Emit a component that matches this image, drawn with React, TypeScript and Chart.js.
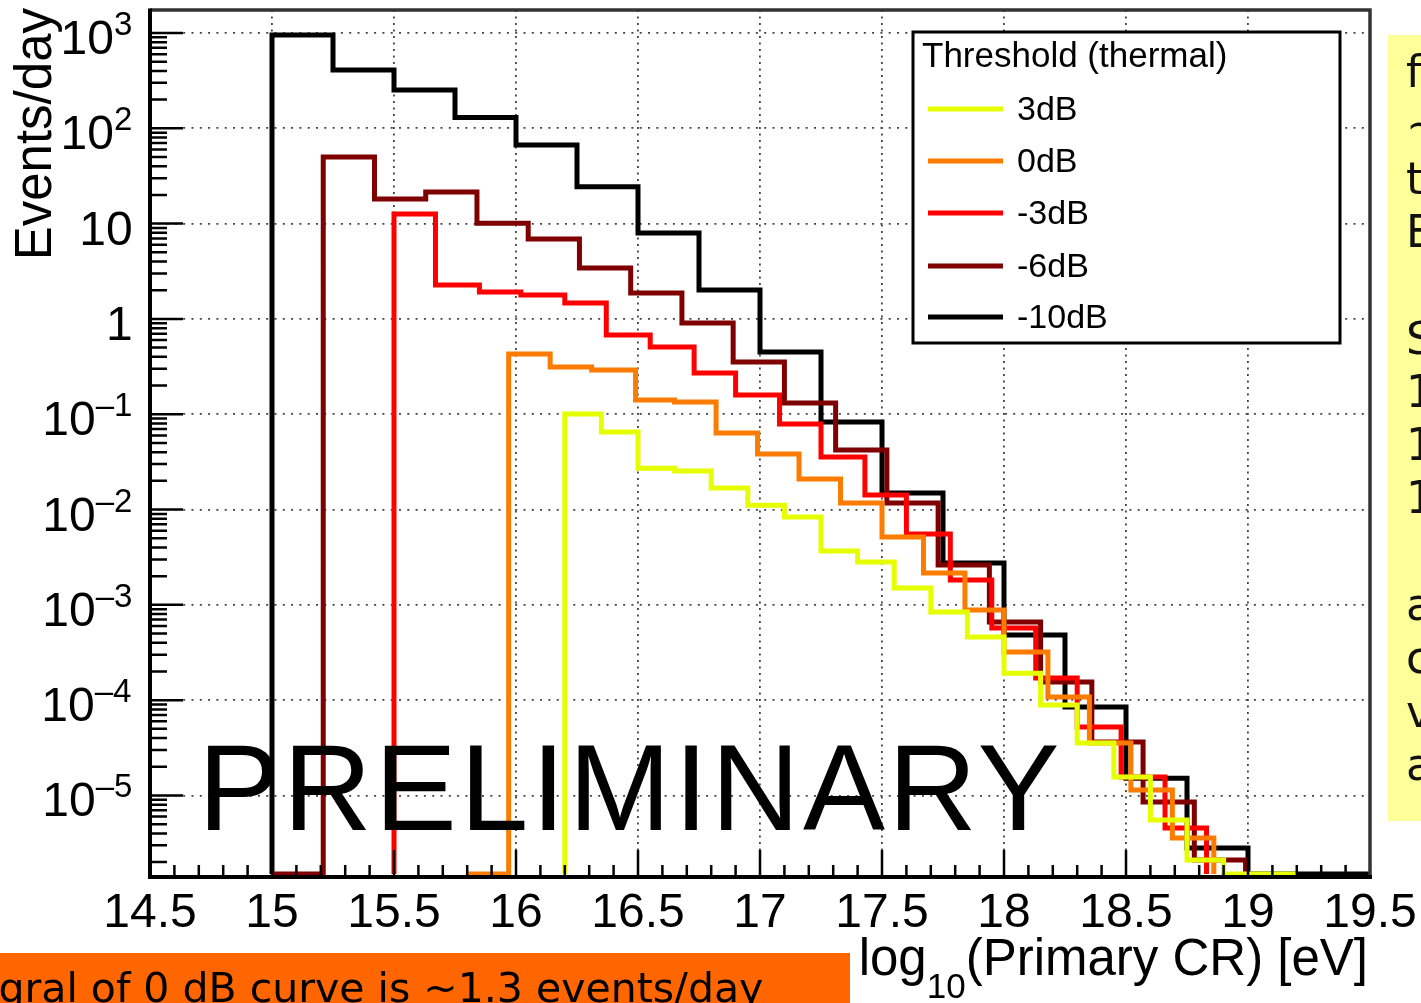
import React, { useEffect, useRef } from 'react';
import { Chart, registerables } from 'chart.js';

Chart.register(...registerables);

// ---------------- data ----------------
// x: log10(Primary CR energy / eV); y: events per day, per histogram bin
const EDGES_3DB = [16.20, 16.35, 16.50, 16.65, 16.80, 16.95, 17.10, 17.25, 17.40, 17.55, 17.70, 17.85, 18.00, 18.15, 18.30, 18.45, 18.60, 18.75, 18.90, 19.05, 19.20];
const VALUES_3DB = [0.1005, 0.065, 0.0272, 0.0254, 0.0168, 0.0111, 0.00834, 0.00367, 0.00281, 0.0015, 8.4e-4, 4.59e-4, 1.92e-4, 8.89e-5, 3.55e-5, 1.56e-5, 5.52e-6, 2.1e-6, 0, 0];

const EDGES_0DB = [15.80, 15.97, 16.14, 16.31, 16.49, 16.65, 16.82, 16.99, 17.16, 17.33, 17.50, 17.67, 17.84, 18.00, 18.18, 18.35, 18.52, 18.69, 18.86];
const VALUES_0DB = [0, 0.428, 0.313, 0.291, 0.141, 0.134, 0.0635, 0.0382, 0.0209, 0.0117, 0.00514, 0.00216, 8.83e-4, 3.2e-4, 1.08e-4, 3.55e-5, 1.14e-5, 3.57e-6];

const EDGES_M3DB = [15.50, 15.67, 15.85, 16.02, 16.20, 16.37, 16.55, 16.73, 16.90, 17.08, 17.25, 17.43, 17.60, 17.78, 17.95, 18.13, 18.30, 18.48, 18.66, 18.83];
const VALUES_M3DB = [12.6, 2.27, 1.92, 1.78, 1.47, 0.678, 0.507, 0.27, 0.159, 0.0789, 0.0356, 0.0142, 0.00553, 0.00182, 5.71e-4, 1.71e-4, 5.22e-5, 1.56e-5, 4.55e-6];

const EDGES_M6DB = [15.00, 15.21, 15.42, 15.63, 15.84, 16.05, 16.26, 16.47, 16.68, 16.89, 17.10, 17.31, 17.52, 17.73, 17.94, 18.15, 18.36, 18.57, 18.78, 18.99];
const VALUES_M6DB = [0, 50.0, 18.1, 21.5, 10.1, 6.89, 3.42, 1.87, 0.905, 0.353, 0.131, 0.0421, 0.0117, 0.00262, 6.61e-4, 1.55e-4, 3.63e-5, 8.53e-6, 2.1e-6];

const EDGES_M10DB = [15.00, 15.25, 15.50, 15.75, 16.00, 16.25, 16.50, 16.75, 17.00, 17.25, 17.50, 17.75, 18.00, 18.25, 18.50, 18.75, 19.00, 19.25, 19.50];
const VALUES_M10DB = [953, 409, 252, 130, 66.8, 24.4, 7.96, 2.01, 0.45, 0.0828, 0.0149, 0.00275, 4.82e-4, 8.47e-5, 1.52e-5, 2.81e-6, 0, 0];

const SERIES_LABELS = ['3dB', '0dB', '-3dB', '-6dB', '-10dB'];
const SERIES_COLORS = ['#e6ff00', '#fb7c00', '#ff0000', '#7f0000', '#000000'];
const SERIES_EDGES = [EDGES_3DB, EDGES_0DB, EDGES_M3DB, EDGES_M6DB, EDGES_M10DB];
const SERIES_VALUES = [VALUES_3DB, VALUES_0DB, VALUES_M3DB, VALUES_M6DB, VALUES_M10DB];

const X_TICK_VALUES = [14.5, 15, 15.5, 16, 16.5, 17, 17.5, 18, 18.5, 19, 19.5];
const X_TICK_LABELS = ['14.5', '15', '15.5', '16', '16.5', '17', '17.5', '18', '18.5', '19', '19.5'];
const Y_DECADES = [-5, -4, -3, -2, -1, 0, 1, 2, 3];

const LEGEND_TITLE = 'Threshold (thermal)';
const Y_TITLE = 'Events/day';
const X_TITLE_PARTS = ['log', '10', '(Primary CR) [eV]'];
const WATERMARK = 'PRELIMINARY';
const NOTE_TEXT = 'Integral of 0 dB curve is ~1.3 events/day';
const SIDE_NOTE_LINES = ['f', '~', 't', 'E', '', 'S', '1', '1', '1', '', 'a', 'c', 'v', 'a'];

const X_MIN = 14.5;
const X_MAX = 19.5;
const Y_MIN = 1.5e-6;
const Y_MAX = 1743;

const PLOT_FONT = '"Liberation Sans", Arial, Helvetica, sans-serif';
const SLIDE_FONT = '"DejaVu Sans", sans-serif';

function histPoints(edges: number[], values: number[]) {
  const v = (y: number) => (y > 0 ? y : Y_MIN); // empty bins sit on the frame floor, as in ROOT
  const pts: { x: number; y: number }[] = [{ x: edges[0], y: Y_MIN }];
  for (let i = 0; i < values.length; i++) pts.push({ x: edges[i], y: v(values[i]) });
  const n = values.length;
  pts.push({ x: edges[n], y: v(values[n - 1]) });
  pts.push({ x: edges[n], y: Y_MIN });
  return pts;
}

const decorPlugin = {
  id: 'rootDecor',
  beforeDraw(chart: any) {
    const ctx = chart.ctx;
    ctx.save();
    ctx.fillStyle = '#ffffff';
    ctx.fillRect(0, 0, chart.width, chart.height);
    ctx.restore();
  },
  afterDraw(chart: any) {
    const ctx: any = chart.ctx;
    const xs = chart.scales.x;
    const ys = chart.scales.y;
    const { left, right, top, bottom } = chart.chartArea;
    const axisY = bottom + 3;
    ctx.save();

    // frame
    ctx.strokeStyle = '#333';
    ctx.lineWidth = 3.5;
    ctx.beginPath();
    ctx.moveTo(left, top);
    ctx.lineTo(right, top);
    ctx.lineTo(right, axisY);
    ctx.stroke();
    ctx.strokeStyle = '#000';
    ctx.lineWidth = 4;
    ctx.beginPath();
    ctx.moveTo(left, top - 1.5);
    ctx.lineTo(left, axisY + 2);
    ctx.moveTo(left - 2, axisY);
    ctx.lineTo(right + 2, axisY);
    ctx.stroke();

    // x ticks (inside frame)
    ctx.lineWidth = 2.5;
    ctx.beginPath();
    for (let i = 1; i < 50; i++) {
      const val = X_MIN + i * 0.1;
      const px = xs.getPixelForValue(val);
      const len = i % 5 === 0 ? 27 : 12;
      ctx.moveTo(px, axisY);
      ctx.lineTo(px, axisY - len);
    }
    ctx.stroke();

    // y ticks (log, inside frame)
    ctx.beginPath();
    for (let d = -6; d <= 3; d++) {
      for (let k = 1; k <= 9; k++) {
        const val = k * Math.pow(10, d);
        if (val < Y_MIN || val > Y_MAX) continue;
        const py = ys.getPixelForValue(val);
        const len = k === 1 ? 33 : 17;
        ctx.moveTo(left, py);
        ctx.lineTo(left + len, py);
      }
    }
    ctx.stroke();

    // x tick labels
    ctx.fillStyle = '#000';
    ctx.font = `48px ${PLOT_FONT}`;
    ctx.textAlign = 'center';
    ctx.textBaseline = 'alphabetic';
    X_TICK_VALUES.forEach((v, i) => {
      ctx.fillText(X_TICK_LABELS[i], xs.getPixelForValue(v), 927);
    });

    // y tick labels with superscripts, right-aligned by ink
    const inkRight = 131;
    ctx.textAlign = 'left';
    Y_DECADES.forEach((d) => {
      const py = ys.getPixelForValue(Math.pow(10, d));
      if (d === 0 || d === 1) {
        const s = d === 0 ? '1' : '10';
        ctx.font = `48px ${PLOT_FONT}`;
        const m = ctx.measureText(s);
        ctx.fillText(s, inkRight - m.actualBoundingBoxRight, py + 21);
      } else {
        const sup = (d < 0 ? '\u2013' : '') + String(Math.abs(d));
        ctx.font = `33px ${PLOT_FONT}`;
        const ms = ctx.measureText(sup);
        const supX = inkRight - ms.actualBoundingBoxRight;
        ctx.fillText(sup, supX, py + 2);
        ctx.font = `48px ${PLOT_FONT}`;
        const mm = ctx.measureText('10');
        ctx.fillText('10', supX - mm.width, py + 21);
      }
    });

    // y title
    ctx.save();
    ctx.font = `51px ${PLOT_FONT}`;
    ctx.translate(51, 8);
    ctx.rotate(-Math.PI / 2);
    ctx.textAlign = 'right';
    ctx.fillText(Y_TITLE, 0, 0);
    ctx.restore();

    // x title with subscript
    ctx.textAlign = 'left';
    ctx.font = `51px ${PLOT_FONT}`;
    const w1 = ctx.measureText(X_TITLE_PARTS[0]).width;
    const w3 = ctx.measureText(X_TITLE_PARTS[2]).width;
    ctx.font = `35px ${PLOT_FONT}`;
    const w2 = ctx.measureText(X_TITLE_PARTS[1]).width;
    const x0 = 1368 - (w1 + w2 + w3);
    ctx.font = `51px ${PLOT_FONT}`;
    ctx.fillText(X_TITLE_PARTS[0], x0, 975);
    ctx.fillText(X_TITLE_PARTS[2], x0 + w1 + w2, 975);
    ctx.font = `35px ${PLOT_FONT}`;
    ctx.fillText(X_TITLE_PARTS[1], x0 + w1, 998);

    // legend
    const lx = 913, ly = 32, lw = 427, lh = 311;
    ctx.fillStyle = '#fff';
    ctx.fillRect(lx, ly, lw, lh);
    ctx.strokeStyle = '#000';
    ctx.lineWidth = 3;
    ctx.strokeRect(lx, ly, lw, lh);
    ctx.fillStyle = '#000';
    ctx.font = `35px ${PLOT_FONT}`;
    ctx.fillText(LEGEND_TITLE, 922, 67);
    const entryY = [109, 161, 213, 266, 317];
    chart.data.datasets.forEach((ds: any, i: number) => {
      const y = entryY[i];
      ctx.strokeStyle = ds.borderColor;
      ctx.lineWidth = 5;
      ctx.beginPath();
      ctx.moveTo(928, y);
      ctx.lineTo(1003, y);
      ctx.stroke();
      ctx.fillStyle = '#000';
      ctx.font = `34px ${PLOT_FONT}`;
      ctx.fillText(ds.label, 1017, y + 11);
    });

    // watermark
    ctx.fillStyle = '#000';
    ctx.font = `123px ${PLOT_FONT}`;
    ctx.letterSpacing = '3px';
    ctx.fillText(WATERMARK, 198, 830);
    ctx.letterSpacing = '0px';

    // slide notes around the plot
    ctx.fillStyle = '#ffff99';
    ctx.fillRect(1388, 35, 40, 786);
    ctx.fillStyle = '#111';
    ctx.font = `44px ${SLIDE_FONT}`;
    SIDE_NOTE_LINES.forEach((s, i) => {
      if (s) ctx.fillText(s, 1406, 87 + i * 53.3);
    });

    ctx.fillStyle = '#ff6600';
    ctx.fillRect(0, 953, 850, 60);
    ctx.fillStyle = '#000';
    ctx.font = `41px ${SLIDE_FONT}`;
    ctx.fillText(NOTE_TEXT, -81, 1002);

    ctx.restore();
  },
};

export default function App() {
  const ref = useRef<HTMLCanvasElement | null>(null);

  useEffect(() => {
    const canvas = ref.current;
    if (!canvas) return;
    const datasets = SERIES_LABELS.map((label, i) => ({
      label,
      data: histPoints(SERIES_EDGES[i], SERIES_VALUES[i]),
      borderColor: SERIES_COLORS[i],
      backgroundColor: SERIES_COLORS[i],
      borderWidth: 5,
      stepped: 'before' as const,
      pointRadius: 0,
      fill: false,
      tension: 0,
      clip: 8,
      borderJoinStyle: 'miter' as const,
    }));

    const chart = new Chart(canvas, {
      type: 'line',
      data: { datasets },
      options: {
        animation: false,
        responsive: false,
        maintainAspectRatio: false,
        layout: { padding: { left: 150, right: 51, top: 10, bottom: 129 } },
        plugins: { legend: { display: false }, tooltip: { enabled: false }, title: { display: false } },
        scales: {
          x: {
            type: 'linear',
            min: X_MIN,
            max: X_MAX,
            ticks: { display: false, stepSize: 0.5 },
            grid: { color: '#444', lineWidth: 1.8, drawTicks: false },
            border: { display: false, dash: [2, 4.5] },
          },
          y: {
            type: 'logarithmic',
            min: Y_MIN,
            max: Y_MAX,
            ticks: { display: false },
            afterBuildTicks: (axis: any) => {
              axis.ticks = Y_DECADES.map((d) => ({ value: Math.pow(10, d) }));
            },
            grid: { color: '#444', lineWidth: 1.8, drawTicks: false },
            border: { display: false, dash: [2, 6.3] },
          },
        },
      },
      plugins: [decorPlugin],
    } as any);

    return () => chart.destroy();
  }, []);

  return (
    <div style={{ position: 'fixed', left: 0, top: 0, width: 1421, height: 1003, background: '#fff', overflow: 'hidden' }}>
      <canvas ref={ref} width={1421} height={1003} style={{ display: 'block', width: 1421, height: 1003 }} />
    </div>
  );
}
